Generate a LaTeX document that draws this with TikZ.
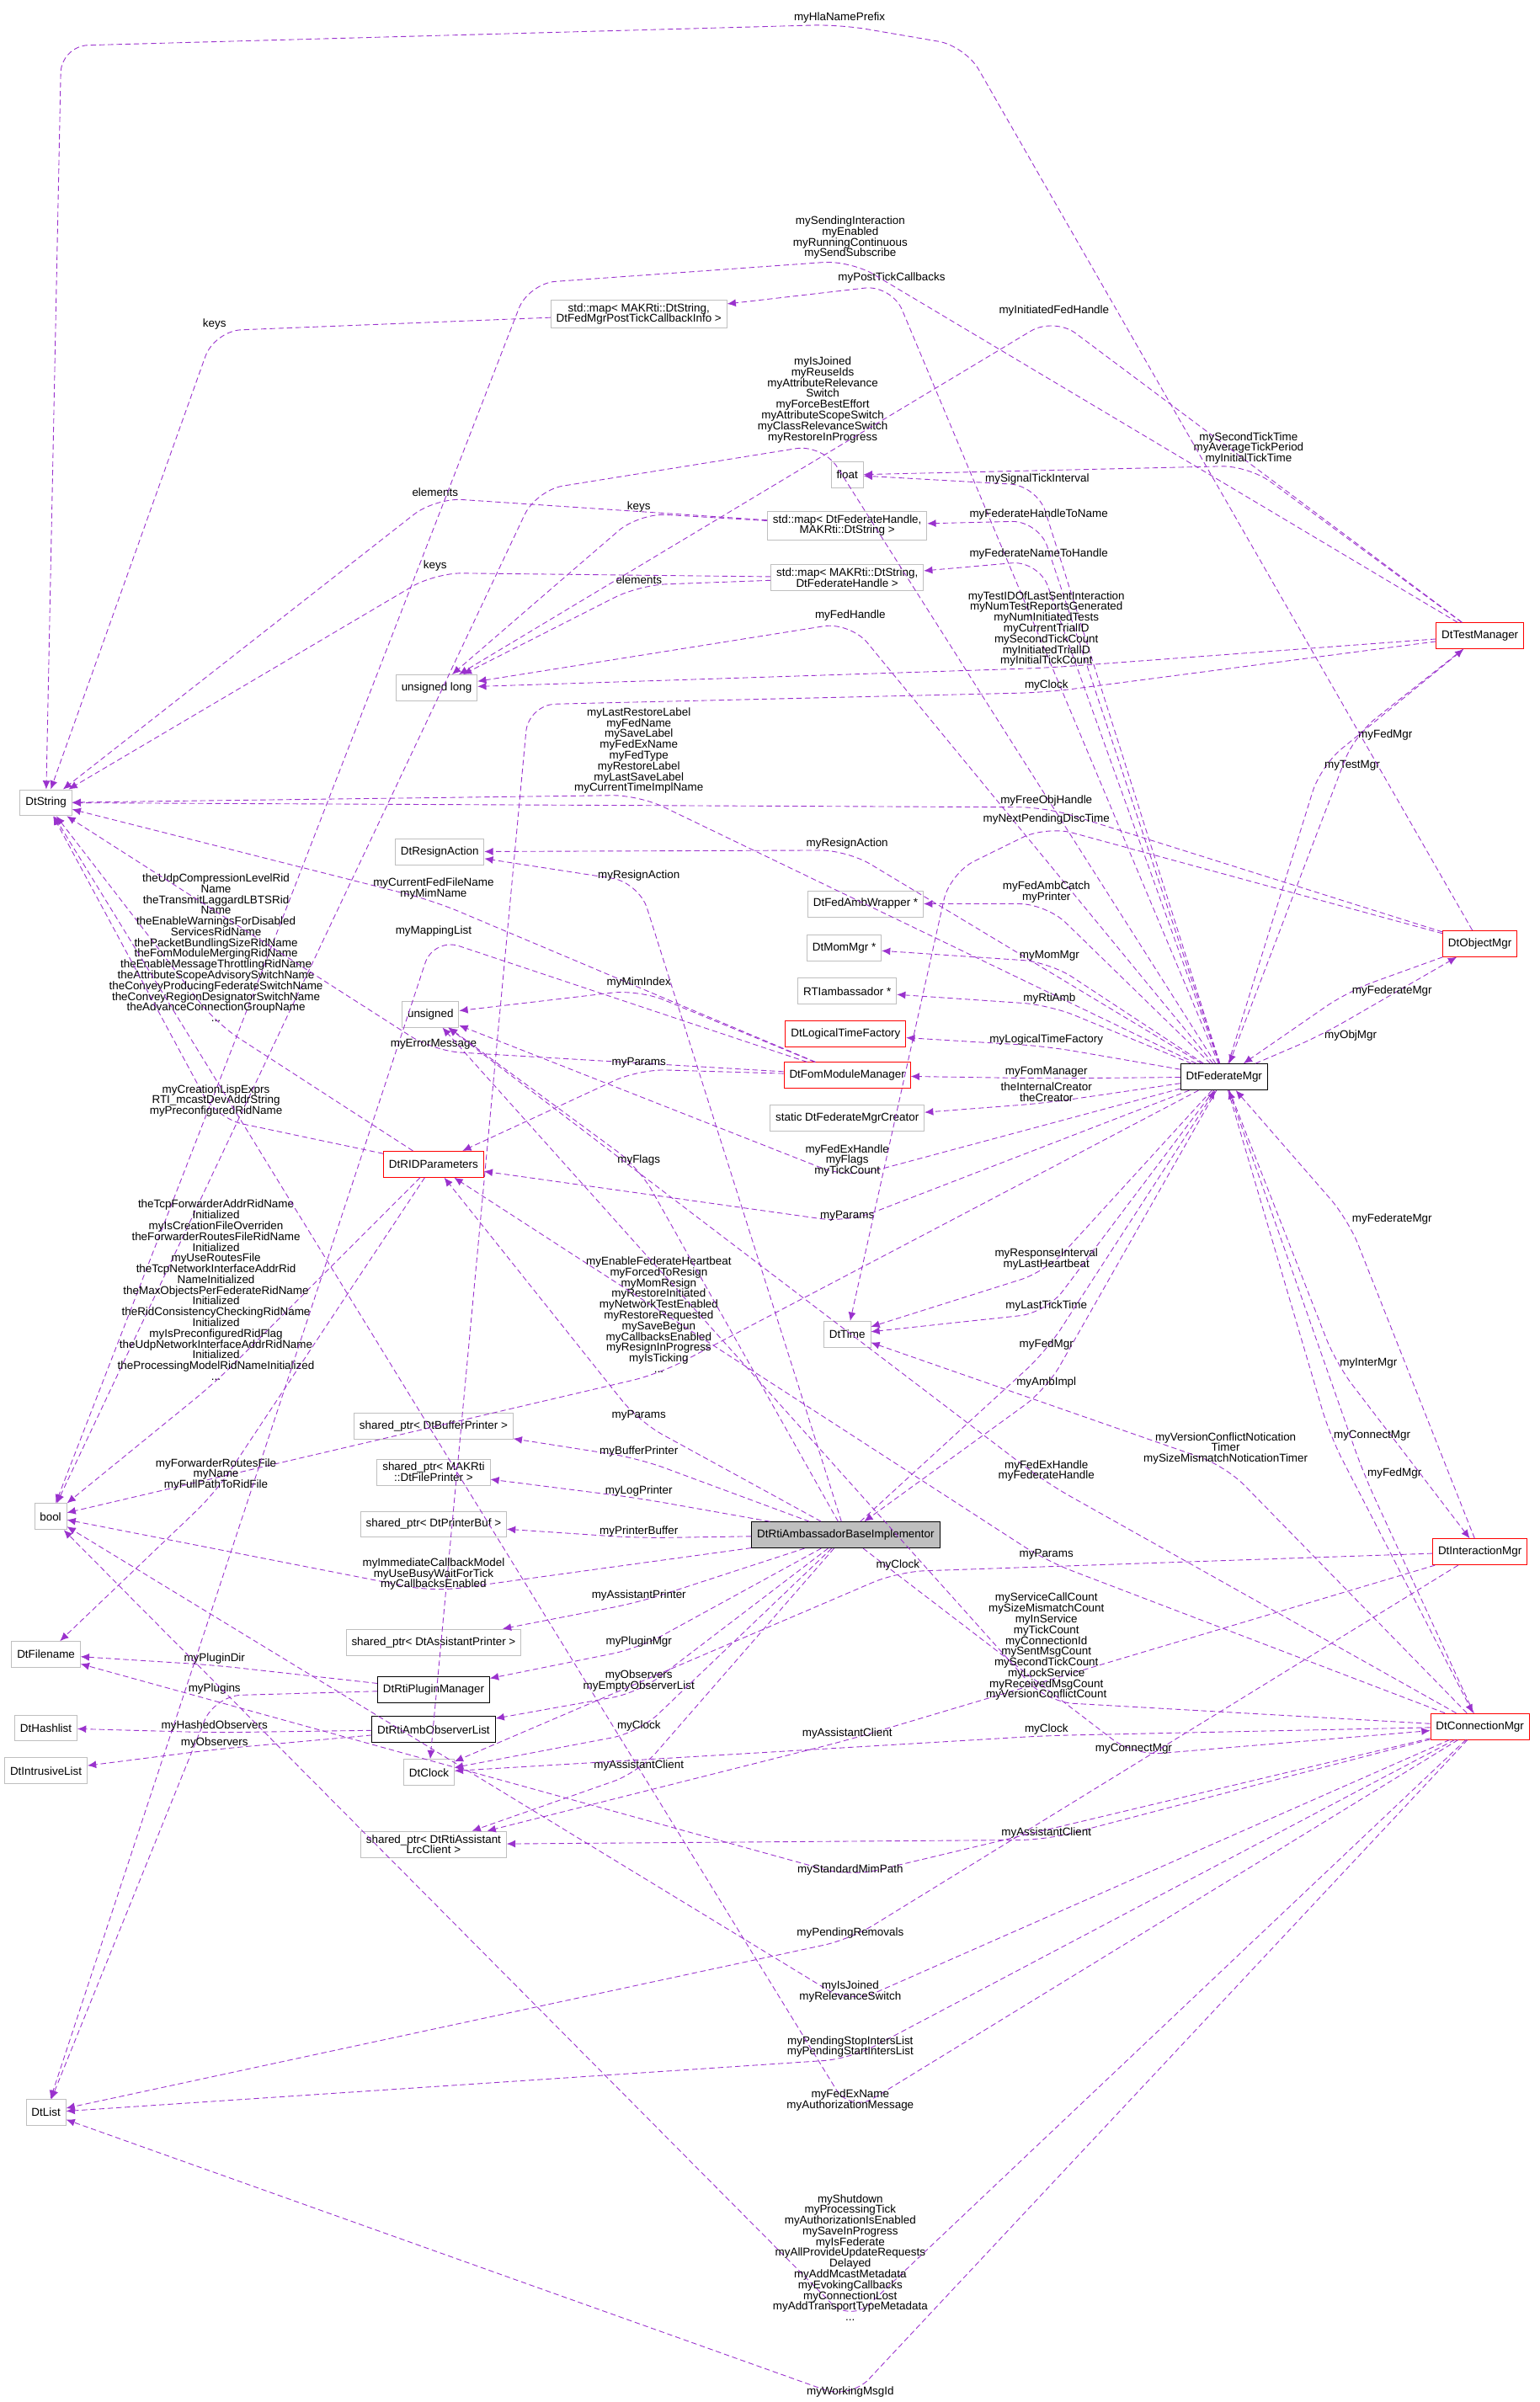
\documentclass[tikz,border=0pt]{standalone}
\usepackage{fontspec}
\setmainfont{Liberation Sans}
\usetikzlibrary{arrows.meta,positioning}
\definecolor{edgecol}{HTML}{9A32CD}
\definecolor{boxgrey}{HTML}{BFBFBF}
\begin{document}
\begin{tikzpicture}[
x=0.05cm, y=-0.05cm,
every node/.style={font=\fontsize{10.5}{10}\selectfont},
cls/.style={draw=boxgrey, fill=white, minimum height=0.85cm, inner xsep=5pt, align=center, line width=0.7pt},
redcls/.style={cls, draw=red},
blkcls/.style={cls, draw=black, thick},
maincls/.style={cls, draw=black, thick, fill=boxgrey},
edge/.style={draw=edgecol, line width=0.7pt, dash pattern=on 5pt off 3pt, -{Latex[length=8pt,width=7pt]}, rounded corners=25pt},
lbl/.style={align=center, inner sep=1pt, above}
]
\useasboundingbox (0,0) rectangle (1005,1568);

% left column
\node[cls] (dtstring) at (30,524) {DtString};
\node[cls] (dtbool) at (33,990) {bool};
\node[cls] (dtfilename) at (30,1080) {DtFilename};
\node[cls] (dthashlist) at (30,1128) {DtHashlist};
\node[cls] (dtintrusive) at (30,1156) {DtIntrusiveList};
\node[cls] (dtlist) at (30,1379) {DtList};

% second column
\node[cls] (mappost) at (417,205) {std::map< MAKRti::DtString,\\ DtFedMgrPostTickCallbackInfo >};
\node[cls] (ulong) at (285,449) {unsigned long};
\node[cls] (resign) at (287,556) {DtResignAction};
\node[cls] (unsig) at (281,662) {unsigned};
\node[redcls] (ridparams) at (283,760) {DtRIDParameters};
\node[cls] (bufprinter) at (283,931) {shared\_ptr< DtBufferPrinter >};
\node[cls] (fileprinter) at (283,961) {shared\_ptr< MAKRti\\ ::DtFilePrinter >};
\node[cls] (printerbuf) at (283,995) {shared\_ptr< DtPrinterBuf >};
\node[cls] (asprinter) at (283,1072) {shared\_ptr< DtAssistantPrinter >};
\node[blkcls] (pluginmgr) at (283,1103) {DtRtiPluginManager};
\node[blkcls] (obslist) at (283,1129) {DtRtiAmbObserverList};
\node[cls] (dtclock) at (280,1157) {DtClock};
\node[cls] (asclient) at (283,1204) {shared\_ptr< DtRtiAssistant\\ LrcClient >};

% middle column
\node[cls] (dtfloat) at (553,310) {float};
\node[cls] (maphandlename) at (553,343) {std::map< DtFederateHandle,\\ MAKRti::DtString >};
\node[cls] (mapnamehandle) at (553,377) {std::map< MAKRti::DtString,\\ DtFederateHandle >};
\node[cls] (fedamb) at (565,590) {DtFedAmbWrapper *};
\node[cls] (mommgr) at (551,619) {DtMomMgr *};
\node[cls] (rtiamb) at (553,647) {RTIambassador *};
\node[redcls] (timefactory) at (552,675) {DtLogicalTimeFactory};
\node[redcls] (fommgr) at (553,702) {DtFomModuleManager};
\node[cls] (creator) at (553,730) {static DtFederateMgrCreator};
\node[cls] (dttime) at (553,871) {DtTime};
\node[maincls] (ambimpl) at (552,1002) {DtRtiAmbassadorBaseImplementor};

% right columns
\node[blkcls] (fedmgr) at (799,703) {DtFederateMgr};
\node[redcls] (testmgr) at (966,415) {DtTestManager};
\node[redcls] (objmgr) at (966,616) {DtObjectMgr};
\node[redcls] (intermgr) at (966,1013) {DtInteractionMgr};
\node[redcls] (connmgr) at (966,1127) {DtConnectionMgr};

% maps
\draw[edge] (mappost) -- (140,216) node[lbl] {keys} -- (dtstring);
\draw[edge] (maphandlename) -- (284,325) node[lbl] {elements} -- (dtstring);
\draw[edge] (maphandlename) -- (417,335) node[lbl] {keys} -- (ulong);
\draw[edge] (mapnamehandle) -- (284,374) node[lbl] {keys} -- (dtstring);
\draw[edge] (mapnamehandle) -- (417,382) node[lbl] {elements} -- (ulong);

% DtFederateMgr
\draw[edge] (fedmgr) -- (417,519) node[lbl] {myLastRestoreLabel\\myFedName\\mySaveLabel\\myFedExName\\myFedType\\myRestoreLabel\\myLastSaveLabel\\myCurrentTimeImplName} -- (dtstring);
\draw[edge] (fedmgr) -- (537,290) node[lbl] {myIsJoined\\myReuseIds\\myAttributeRelevance\\Switch\\myForceBestEffort\\myAttributeScopeSwitch\\myClassRelevanceSwitch\\myRestoreInProgress} -- (350,320) -- (dtbool);
\draw[edge] (fedmgr) -- (582,186) node[lbl] {myPostTickCallbacks} -- (mappost);
\draw[edge] (fedmgr) -- (677,317) node[lbl] {mySignalTickInterval} -- (dtfloat);
\draw[edge] (fedmgr) -- (678,340) node[lbl] {myFederateHandleToName} -- (maphandlename);
\draw[edge] (fedmgr) -- (678,366) node[lbl] {myFederateNameToHandle} -- (mapnamehandle);
\draw[edge] (fedmgr) -- (555,406) node[lbl] {myFedHandle} -- (ulong);
\draw[edge] (fedmgr) -- (553,555) node[lbl] {myResignAction} -- (resign);
\draw[edge] (fedmgr) -- (683,590) node[lbl] {myFedAmbCatch\\myPrinter} -- (fedamb);
\draw[edge] (fedmgr) -- (685,628) node[lbl] {myMomMgr} -- (mommgr);
\draw[edge] (fedmgr) -- (685,656) node[lbl] {myRtiAmb} -- (rtiamb);
\draw[edge] (fedmgr) -- (683,683) node[lbl] {myLogicalTimeFactory} -- (timefactory);
\draw[edge] (fedmgr) -- (683,704) node[lbl] {myFomManager} -- (fommgr);
\draw[edge] (fedmgr) -- (683,720) node[lbl] {theInternalCreator\\theCreator} -- (creator);
\draw[edge] (fedmgr) -- (553,769) node[lbl] {myFedExHandle\\myFlags\\myTickCount} -- (unsig);
\draw[edge] (fedmgr) -- (553,798) node[lbl] {myParams} -- (ridparams);
\draw[edge] (fedmgr) -- (683,830) node[lbl] {myResponseInterval\\myLastHeartbeat} -- (dttime);
\draw[edge] (fedmgr) -- (683,857) node[lbl] {myLastTickTime} -- (dttime);
\draw[edge] (fedmgr) -- (430,897) node[lbl] {myEnableFederateHeartbeat\\myForcedToResign\\myMomResign\\myRestoreInitiated\\myNetworkTestEnabled\\myRestoreRequested\\mySaveBegun\\myCallbacksEnabled\\myResignInProgress\\myIsTicking\\...} -- (dtbool);
\draw[edge] (fedmgr) -- (683,907) node[lbl] {myAmbImpl} -- (ambimpl);
\draw[edge] (fedmgr) -- (862,500) node[right] {myTestMgr} -- (testmgr);
\draw[edge] (fedmgr) -- (862,676) node[right] {myObjMgr} -- (objmgr);
\draw[edge] (fedmgr) -- (872,890) node[right] {myInterMgr} -- (intermgr);
\draw[edge] (fedmgr) -- (868,937) node[right] {myConnectMgr} -- (connmgr);

% DtTestManager
\draw[edge] (testmgr) -- (555,170) node[lbl] {mySendingInteraction\\myEnabled\\myRunningContinuous\\mySendSubscribe} -- (345,185) -- (dtbool);
\draw[edge] (testmgr) -- (688,207) node[lbl] {myInitiatedFedHandle} -- (ulong);
\draw[edge] (testmgr) -- (815,304) node[lbl] {mySecondTickTime\\myAverageTickPeriod\\myInitialTickTime} -- (dtfloat);
\draw[edge] (testmgr) -- (683,436) node[lbl] {myTestIDOfLastSentInteraction\\myNumTestReportsGenerated\\myNumInitiatedTests\\myCurrentTrialID\\mySecondTickCount\\myInitiatedTrialID\\myInitialTickCount} -- (ulong);
\draw[edge] (testmgr) -- (683,452) node[lbl] {myClock} -- (345,460) -- (dtclock);
\draw[edge] (testmgr) -- (884,480) node[right] {myFedMgr} -- (fedmgr);

% DtObjectMgr
\draw[edge] (objmgr) -- (630,30) -- (548,16) node[lbl] {myHlaNamePrefix} -- (40,30) -- (dtstring);
\draw[edge] (objmgr) -- (683,527) node[lbl] {myFreeObjHandle} -- (dtstring);
\draw[edge] (objmgr) -- (683,539) node[lbl] {myNextPendingDiscTime} -- (620,570) -- (dttime);
\draw[edge] (objmgr) -- (880,647) node[right] {myFederateMgr} -- (fedmgr);

% DtRIDParameters
\draw[edge] (ridparams) -- (141,668) node[lbl] {theUdpCompressionLevelRid\\Name\\theTransmitLaggardLBTSRid\\Name\\theEnableWarningsForDisabled\\ServicesRidName\\thePacketBundlingSizeRidName\\theFomModuleMergingRidName\\theEnableMessageThrottlingRidName\\theAttributeScopeAdvisorySwitchName\\theConveyProducingFederateSwitchName\\theConveyRegionDesignatorSwitchName\\theAdvanceConnectionGroupName\\...} -- (dtstring);
\draw[edge] (ridparams) -- (141,730) node[lbl] {myCreationLispExprs\\RTI\_mcastDevAddrString\\myPreconfiguredRidName} -- (dtstring);
\draw[edge] (ridparams) -- (141,902) node[lbl] {theTcpForwarderAddrRidName\\Initialized\\myIsCreationFileOverriden\\theForwarderRoutesFileRidName\\Initialized\\myUseRoutesFile\\theTcpNetworkInterfaceAddrRid\\NameInitialized\\theMaxObjectsPerFederateRidName\\Initialized\\theRidConsistencyCheckingRidName\\Initialized\\myIsPreconfiguredRidFlag\\theUdpNetworkInterfaceAddrRidName\\Initialized\\theProcessingModelRidNameInitialized\\...} -- (dtbool);
\draw[edge] (ridparams) -- (141,974) node[lbl] {myForwarderRoutesFile\\myName\\myFullPathToRidFile} -- (dtfilename);

% DtFomModuleManager
\draw[edge] (fommgr) -- (283,588) node[lbl] {myCurrentFedFileName\\myMimName} -- (dtstring);
\draw[edge] (fommgr) -- (283,612) node[lbl] {myMappingList} -- (dtlist);
\draw[edge] (fommgr) -- (417,646) node[lbl] {myMimIndex} -- (unsig);
\draw[edge] (fommgr) -- (283,686) node[lbl] {myErrorMessage} -- (dtstring);
\draw[edge] (fommgr) -- (417,698) node[lbl] {myParams} -- (ridparams);

% DtRtiAmbassadorBaseImplementor
\draw[edge] (ambimpl) -- (417,576) node[lbl] {myResignAction} -- (resign);
\draw[edge] (ambimpl) -- (417,762) node[lbl] {myFlags} -- (unsig);
\draw[edge] (ambimpl) -- (417,928) node[lbl] {myParams} -- (ridparams);
\draw[edge] (ambimpl) -- (417,952) node[lbl] {myBufferPrinter} -- (bufprinter);
\draw[edge] (ambimpl) -- (417,978) node[lbl] {myLogPrinter} -- (fileprinter);
\draw[edge] (ambimpl) -- (417,1004) node[lbl] {myPrinterBuffer} -- (printerbuf);
\draw[edge] (ambimpl) -- (283,1039) node[lbl] {myImmediateCallbackModel\\myUseBusyWaitForTick\\myCallbacksEnabled} -- (dtbool);
\draw[edge] (ambimpl) -- (417,1046) node[lbl] {myAssistantPrinter} -- (asprinter);
\draw[edge] (ambimpl) -- (417,1076) node[lbl] {myPluginMgr} -- (pluginmgr);
\draw[edge] (ambimpl) -- (417,1105) node[lbl] {myObservers\\myEmptyObserverList} -- (obslist);
\draw[edge] (ambimpl) -- (417,1131) node[lbl] {myClock} -- (dtclock);
\draw[edge] (ambimpl) -- (417,1157) node[lbl] {myAssistantClient} -- (asclient);
\draw[edge] (ambimpl) -- (683,882) node[lbl] {myFedMgr} -- (fedmgr);
\draw[edge] (ambimpl) -- (740,1146) node[lbl] {myConnectMgr} -- (connmgr);

% DtRtiPluginManager, DtRtiAmbObserverList
\draw[edge] (pluginmgr) -- (140,1087) node[lbl] {myPluginDir} -- (dtfilename);
\draw[edge] (pluginmgr) -- (140,1107) node[lbl] {myPlugins} -- (dtlist);
\draw[edge] (obslist) -- (140,1131) node[lbl] {myHashedObservers} -- (dthashlist);
\draw[edge] (obslist) -- (140,1142) node[lbl] {myObservers} -- (dtintrusive);

% DtInteractionMgr
\draw[edge] (intermgr) -- (880,796) node[right] {myFederateMgr} -- (fedmgr);
\draw[edge] (intermgr) -- (586,1026) node[lbl] {myClock} -- (dtclock);
\draw[edge] (intermgr) -- (553,1136) node[lbl] {myAssistantClient} -- (asclient);
\draw[edge] (intermgr) -- (555,1266) node[lbl] {myPendingRemovals} -- (dtlist);

% DtConnectionMgr
\draw[edge] (connmgr) -- (683,1111) node[lbl] {myServiceCallCount\\mySizeMismatchCount\\myInService\\myTickCount\\myConnectionId\\mySentMsgCount\\mySecondTickCount\\myLockService\\myReceivedMsgCount\\myVersionConflictCount} -- (unsig);
\draw[edge] (connmgr) -- (800,957) node[lbl] {myVersionConflictNotication\\Timer\\mySizeMismatchNoticationTimer} -- (dttime);
\draw[edge] (connmgr) -- (683,968) node[lbl] {myFedExHandle\\myFederateHandle} -- (unsig);
\draw[edge] (connmgr) -- (683,1019) node[lbl] {myParams} -- (ridparams);
\draw[edge] (connmgr) -- (683,1133) node[lbl] {myClock} -- (dtclock);
\draw[edge] (connmgr) -- (683,1201) node[lbl] {myAssistantClient} -- (asclient);
\draw[edge] (connmgr) -- (890,962) node[right] {myFedMgr} -- (fedmgr);
\draw[edge] (connmgr) -- (555,1225) node[lbl] {myStandardMimPath} -- (dtfilename);
\draw[edge] (connmgr) -- (555,1308) node[lbl] {myIsJoined\\myRelevanceSwitch} -- (dtbool);
\draw[edge] (connmgr) -- (555,1344) node[lbl] {myPendingStopIntersList\\myPendingStartIntersList} -- (dtlist);
\draw[edge] (connmgr) -- (555,1379) node[lbl] {myFedExName\\myAuthorizationMessage} -- (dtstring);
\draw[edge] (connmgr) -- (555,1516) node[lbl] {myShutdown\\myProcessingTick\\myAuthorizationIsEnabled\\mySaveInProgress\\myIsFederate\\myAllProvideUpdateRequests\\Delayed\\myAddMcastMetadata\\myEvokingCallbacks\\myConnectionLost\\myAddTransportTypeMetadata\\...} -- (dtbool);
\draw[edge] (connmgr) -- (555,1566) node[lbl] {myWorkingMsgId} -- (dtlist);

\end{tikzpicture}
\end{document}
